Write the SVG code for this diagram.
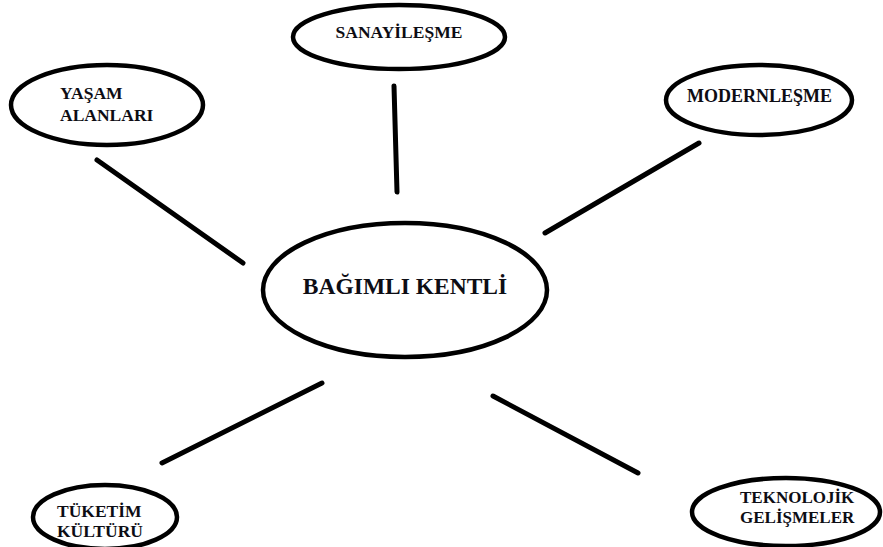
<svg xmlns="http://www.w3.org/2000/svg" width="883" height="547" viewBox="0 0 883 547">
<style>
.node ellipse{fill:#fff;stroke:#000;stroke-width:4.5}
.node text{font-family:"Liberation Serif","Times New Roman",serif;font-weight:bold;font-size:17.5px;fill:#0d0d14}
.edges line{stroke:#000;stroke-width:5;stroke-linecap:round}
</style>
<rect width="883" height="547" fill="#fff"/>
<g id="edges" class="edges">
<line x1="97" y1="160" x2="243" y2="263"/>
<line x1="394" y1="86" x2="397" y2="192"/>
<line x1="699" y1="143" x2="545" y2="233"/>
<line x1="322" y1="383" x2="162" y2="463"/>
<line x1="493" y1="396" x2="638" y2="473"/>
</g>
<g id="node-center" class="node">
<ellipse cx="405" cy="290" rx="142" ry="67"/>
<text x="405" y="294" text-anchor="middle" style="font-size:23.5px">BAĞIMLI KENTLİ</text>
</g>
<g id="node-sanayilesme" class="node">
<ellipse cx="399" cy="37" rx="106" ry="32"/>
<text x="399" y="38" text-anchor="middle">SANAYİLEŞME</text>
</g>
<g id="node-yasam" class="node">
<ellipse cx="107" cy="105" rx="96" ry="40"/>
<text x="60" y="99">YAŞAM</text>
<text x="60" y="121">ALANLARI</text>
</g>
<g id="node-modernlesme" class="node">
<ellipse cx="759" cy="100" rx="93" ry="35"/>
<text x="759.5" y="102" text-anchor="middle" style="font-size:18px">MODERNLEŞME</text>
</g>
<g id="node-tuketim" class="node">
<ellipse cx="105" cy="517" rx="72" ry="32"/>
<text x="57" y="517">TÜKETİM</text>
<text x="57" y="537">KÜLTÜRÜ</text>
</g>
<g id="node-teknolojik" class="node">
<ellipse cx="786" cy="512" rx="94" ry="34"/>
<text x="740" y="503" style="font-size:17px">TEKNOLOJİK</text>
<text x="740" y="523" style="font-size:17px">GELİŞMELER</text>
</g>
</svg>
